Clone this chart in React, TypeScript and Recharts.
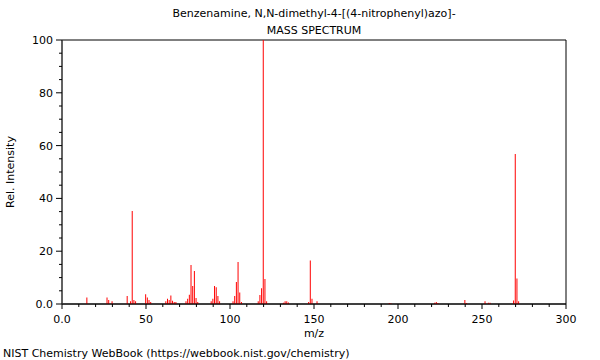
import { BarChart, Bar, XAxis, YAxis, ReferenceArea } from 'recharts';

// m/z values and relative intensities
const mzValues = [
    15, 27, 28, 30, 39, 41, 42, 43, 44, 50, 51, 52, 53,
    62, 63, 64, 65, 66, 67, 68, 74, 75, 76, 77, 78, 79, 80, 81,
    89, 90, 91, 92, 93, 94, 102, 103, 104, 105, 106, 107,
    117, 118, 119, 120, 121, 122, 132, 133, 134, 135,
    147, 148, 149, 152, 195, 196, 222, 223, 224,
    240, 241, 252, 254, 255, 269, 270, 271, 272,
];
const intensities = [
    2.5, 2.5, 1.5, 1, 3, 1, 35.2, 1.5, 1, 3.7, 2.5, 1.5, 0.8,
    1, 2, 1.5, 3.2, 1.2, 0.8, 0.8, 1, 2, 3.5, 14.8, 6.8, 12.5, 2.3, 0.8,
    1, 2, 6.8, 6.3, 3, 1, 1, 3, 8.3, 15.9, 4.4, 0.8,
    1, 3.4, 6, 100, 9.5, 1, 0.5, 1, 1, 0.6,
    0.8, 16.5, 2, 1, 0.4, 0.3, 0.5, 0.8, 0.4,
    1.5, 0.4, 1, 0.5, 0.5, 1.3, 56.8, 9.7, 1,
];
const xTicks = [0, 10, 20, 30, 40, 50, 60, 70, 80, 90, 100, 110, 120, 130, 140, 150,
    160, 170, 180, 190, 200, 210, 220, 230, 240, 250, 260, 270, 280, 290, 300];
const yTicks = [0, 5, 10, 15, 20, 25, 30, 35, 40, 45, 50, 55, 60, 65, 70, 75, 80, 85, 90, 95, 100];

const title = 'Benzenamine, N,N-dimethyl-4-[(4-nitrophenyl)azo]-';
const subtitle = 'MASS SPECTRUM';
const footer = 'NIST Chemistry WebBook (https://webbook.nist.gov/chemistry)';

const data = mzValues.map((mz, i) => ({ mz, intensity: intensities[i] }));

const FONT = '"DejaVu Sans", sans-serif';

const fmt = (v: number) => (v === 0 ? '0.0' : String(v));

// plot box is x 62..566, y 40..304
const renderXTick = (props: any) => {
    const { x, payload } = props;
    const y = 304;
    const major = payload.value % 50 === 0;
    return (
        <g key={`xt-${payload.value}`}>
            <line x1={x} x2={x} y1={y} y2={y + (major ? 5 : 3)} stroke="#000" />
            {major && (
                <text x={x} y={y + 19} textAnchor="middle" fontSize={11} fontFamily={FONT} fill="#000">
                    {fmt(payload.value)}
                </text>
            )}
        </g>
    );
};

const renderYTick = (props: any) => {
    const { y, payload } = props;
    const x = 62;
    const major = payload.value % 20 === 0;
    return (
        <g key={`yt-${payload.value}`}>
            <line x1={x - (major ? 6 : 3)} x2={x} y1={y} y2={y} stroke="#000" />
            {major && (
                <text x={x - 9} y={y + 4} textAnchor="end" fontSize={11} fontFamily={FONT} fill="#000">
                    {fmt(payload.value)}
                </text>
            )}
        </g>
    );
};

export default function App() {
    return (
        <div style={{ position: 'absolute', left: 0, top: 0, width: 600, height: 360, background: '#fff' }}>
            <BarChart
                width={600}
                height={360}
                data={data}
                margin={{ top: 40, right: 34, bottom: 26, left: 12 }}
            >
                <XAxis
                    dataKey="mz"
                    type="number"
                    domain={[0, 300]}
                    ticks={xTicks}
                    interval={0}
                    height={30}
                    tickLine={false}
                    tick={renderXTick}
                    axisLine={{ stroke: '#000' }}
                    allowDataOverflow
                />
                <YAxis
                    type="number"
                    domain={[0, 100]}
                    ticks={yTicks}
                    interval={0}
                    width={50}
                    tickLine={false}
                    tick={renderYTick}
                    axisLine={{ stroke: '#444' }}
                    allowDataOverflow
                />
                <ReferenceArea x1={0} x2={300} y1={0} y2={100} fill="none" stroke="#000" strokeOpacity={1} fillOpacity={0} />
                <Bar dataKey="intensity" fill="#ff0000" barSize={1} isAnimationActive={false} />
            </BarChart>
            <svg width={600} height={360} style={{ position: 'absolute', left: 0, top: 0, pointerEvents: 'none' }}>
                <g fontFamily={FONT} fontSize={11} fill="#000">
                    <text x={314} y={17} textAnchor="middle">{title}</text>
                    <text x={314} y={34} textAnchor="middle">{subtitle}</text>
                    <text x={314} y={337} textAnchor="middle">m/z</text>
                    <text x={3} y={357}>{footer}</text>
                    <text x={14} y={172} textAnchor="middle" transform="rotate(-90 14 172)">Rel. Intensity</text>
                </g>
            </svg>
        </div>
    );
}
